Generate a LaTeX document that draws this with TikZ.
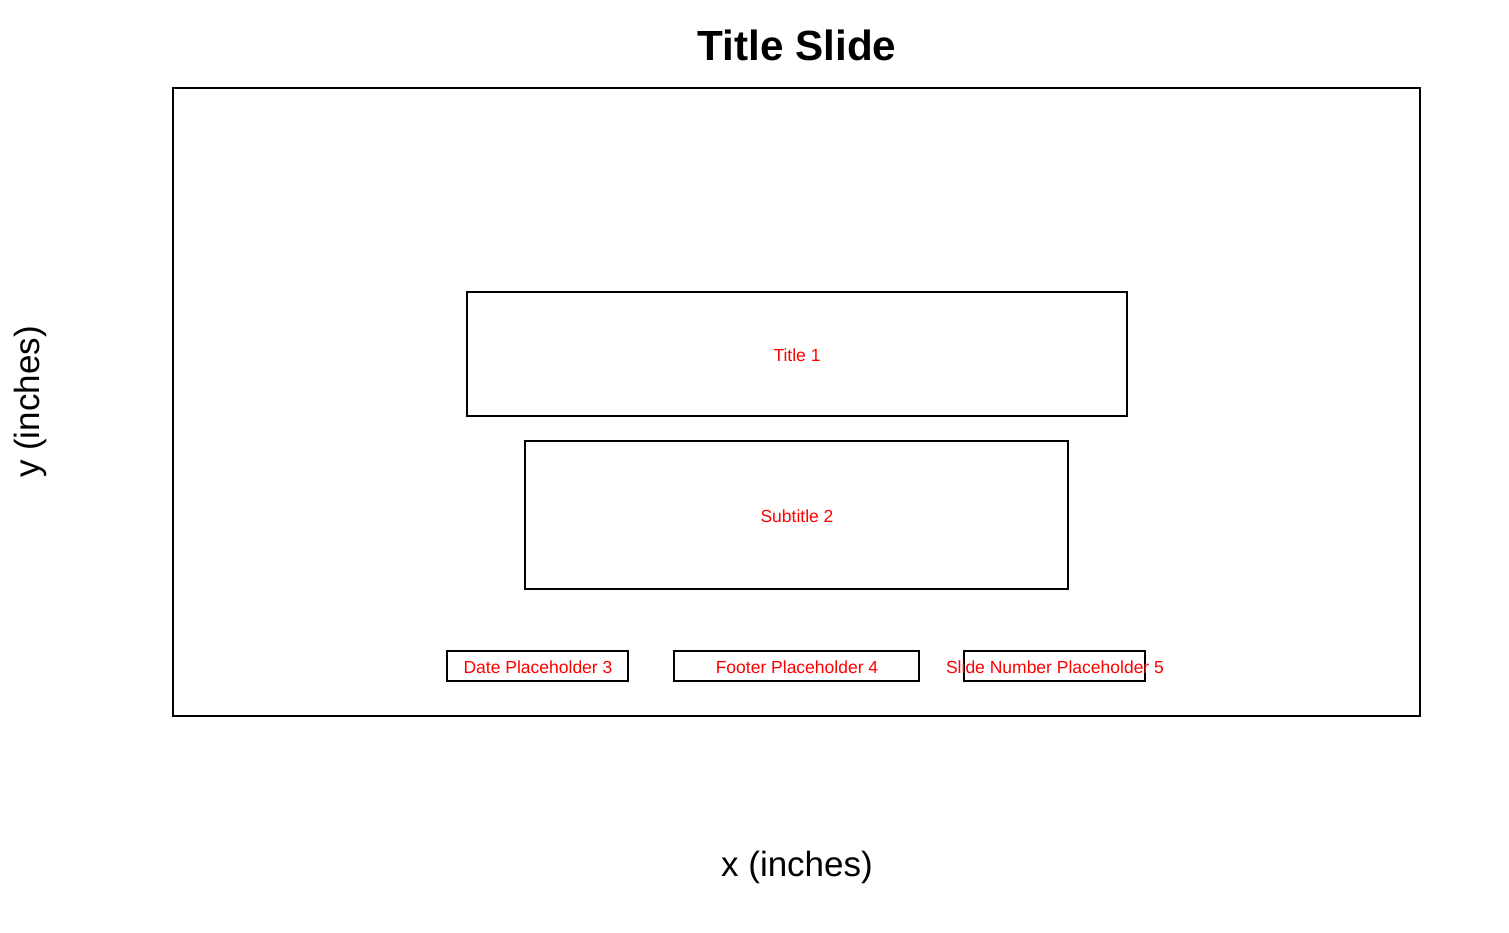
\documentclass[tikz,border=0pt]{standalone}
\usepackage{fontspec}
\setmainfont{Liberation Sans}
\begin{document}
\begin{tikzpicture}[x=0.5pt,y=-0.5pt,
  frame/.style={draw=black,line width=1pt},
  phlabel/.style={text=red,font=\fontsize{8.75pt}{10pt}\selectfont,inner sep=0pt},
  axislabel/.style={font=\fontsize{17.5pt}{20pt}\selectfont,inner sep=0pt}]
  \useasboundingbox (0,0) rectangle (1509,932);
  % title and axis labels
  \node[font=\fontsize{21.1pt}{24pt}\selectfont\bfseries,inner sep=0pt] (heading) at (797,45) {Title Slide};
  \node[axislabel] (xlab) at (797,867) {x (inches)};
  \node[axislabel,rotate=90] (ylab) at (30,402) {y (inches)};
  % slide outline
  \draw[frame] (173,88) rectangle (1420,716);
  % placeholders
  \draw[frame] (467,292) rectangle (1127,416);
  \node[phlabel] (t1) at (797,355) {Title 1};
  \draw[frame] (525,441) rectangle (1068,589);
  \node[phlabel] (t2) at (797,516) {Subtitle 2};
  \draw[frame] (447,651) rectangle (628,681);
  \node[phlabel] (t3) at (538,667) {Date Placeholder 3};
  \draw[frame] (674,651) rectangle (919,681);
  \node[phlabel] (t4) at (797,667) {Footer Placeholder 4};
  \draw[frame] (964,651) rectangle (1145,681);
  \node[phlabel] (t5) at (1055,667) {Slide Number Placeholder 5};
\end{tikzpicture}
\end{document}
